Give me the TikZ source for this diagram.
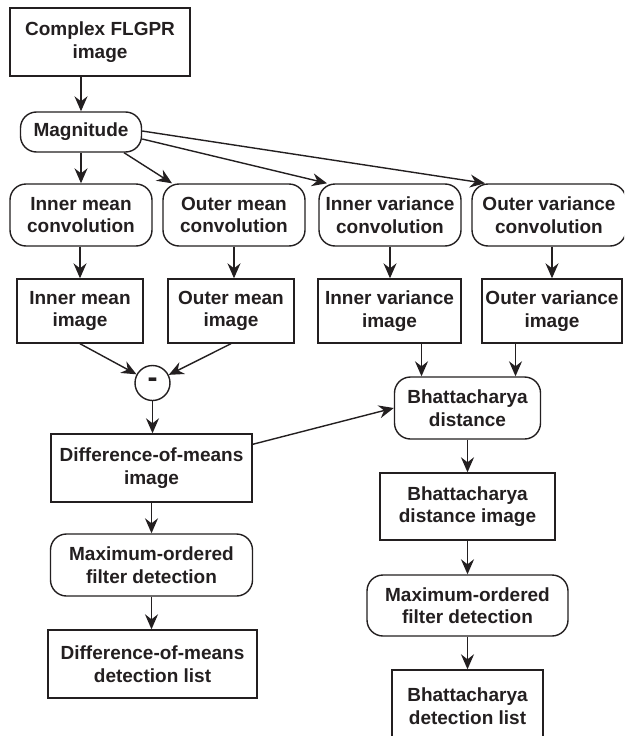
\documentclass[tikz,border=0pt]{standalone}
\usepackage{fontspec}
\setmainfont{Liberation Sans}
\usetikzlibrary{arrows.meta}
\definecolor{ink}{HTML}{231F20}
\tikzset{
  base/.style={draw=ink, line width=1.4pt, text=ink, align=center, inner sep=0pt,
    font=\fontsize{19}{22.5}\selectfont\bfseries},
  sqbox/.style={base, rectangle},
  rbox/.style={base, rectangle, rounded corners=16pt},
  arr/.style={draw=ink, line width=1.4pt, -{Stealth[length=15pt,width=13pt,inset=5pt]}},
}
\begin{document}
\begin{tikzpicture}[x=1pt,y=1pt]
\clip (0,0) rectangle (624,-736);
\fill[white] (0,0) rectangle (624,-736);
% left column
\node[sqbox, minimum width=180pt, minimum height=68pt] (cplx) at (100,-42) {Complex FLGPR\\image};
\node[rbox, minimum width=121pt, minimum height=40pt] (mag) at (81,-132) {Magnitude};
\node[rbox, minimum width=142pt, minimum height=62pt] (imc) at (81,-215) {Inner mean\\convolution};
\node[rbox, minimum width=142pt, minimum height=62pt] (omc) at (234,-215) {Outer mean\\convolution};
\node[rbox, minimum width=142pt, minimum height=62pt] (ivc) at (390,-215) {Inner variance\\convolution};
\node[rbox, minimum width=154pt, minimum height=62pt] (ovc) at (549,-215) {Outer variance\\convolution};
\node[sqbox, minimum width=126pt, minimum height=64pt] (imi) at (80,-311) {Inner mean\\image};
\node[sqbox, minimum width=126pt, minimum height=64pt] (omi) at (231,-311) {Outer mean\\image};
\node[sqbox, minimum width=143pt, minimum height=64pt] (ivi) at (389.5,-311) {Inner variance\\image};
\node[sqbox, minimum width=140pt, minimum height=64pt] (ovi) at (552,-311) {Outer variance\\image};
\node[base, circle, minimum size=35pt, font=\fontsize{30}{30}\selectfont\bfseries] (minus) at (152.5,-383) {-};
\node[sqbox, minimum width=201pt, minimum height=68pt] (dmi) at (151.5,-468) {Difference-of-means\\image};
\node[rbox, minimum width=202pt, minimum height=62pt] (mfl) at (151.5,-565) {Maximum-ordered\\filter detection};
\node[sqbox, minimum width=209pt, minimum height=68pt] (dml) at (152.5,-664) {Difference-of-means\\detection list};
% right column
\node[rbox, minimum width=146pt, minimum height=62pt] (bd) at (467.5,-408) {Bhattacharya\\distance};
\node[sqbox, minimum width=175pt, minimum height=67pt] (bdi) at (467.5,-506.5) {Bhattacharya\\distance image};
\node[rbox, minimum width=201pt, minimum height=61pt] (mfr) at (467.5,-605.5) {Maximum-ordered\\filter detection};
\node[sqbox, minimum width=151pt, minimum height=72pt] (bdl) at (467.5,-706) {Bhattacharya\\detection list};
% helper coordinates
\coordinate (bdin1) at ([xshift=-46pt]bd.north);
\coordinate (bdin2) at ([xshift=48pt]bd.north);
% connectors
\draw[arr] (cplx.south -| mag.north) -- (mag.north);
\draw[arr] (mag.south) -- (imc.north);
\draw[arr] ([xshift=43pt]mag.south) -- ([xshift=-62pt]omc.north);
\draw[arr] ([yshift=-7pt]mag.east) -- ([xshift=-63pt]ivc.north);
\draw[arr] ([yshift=1pt]mag.east) -- ([xshift=-64pt]ovc.north);
\draw[arr] (imc.south -| imi.north) -- (imi.north);
\draw[arr] (omc.south) -- (omc.south |- omi.north);
\draw[arr] (ivc.south) -- (ivc.south |- ivi.north);
\draw[arr] (ovi.north |- ovc.south) -- (ovi.north);
\draw[arr] (imi.south) -- (minus);
\draw[arr] (omi.south) -- (minus);
\draw[arr] (minus.south) -- (minus.south |- dmi.north);
\draw[arr] ([yshift=-11pt]dmi.north east) -- (bd.west);
\draw[arr] (dmi.south -| mfl.north) -- (mfl.north);
\draw[arr] (mfl.south) -- (mfl.south |- dml.north);
\draw[arr] (bdin1 |- ivi.south) -- (bdin1);
\draw[arr] (bdin2 |- ovi.south) -- (bdin2);
\draw[arr] (bd.south) -- (bdi.north);
\draw[arr] (bdi.south) -- (mfr.north);
\draw[arr] (mfr.south) -- (bdl.north);
\end{tikzpicture}
\end{document}
